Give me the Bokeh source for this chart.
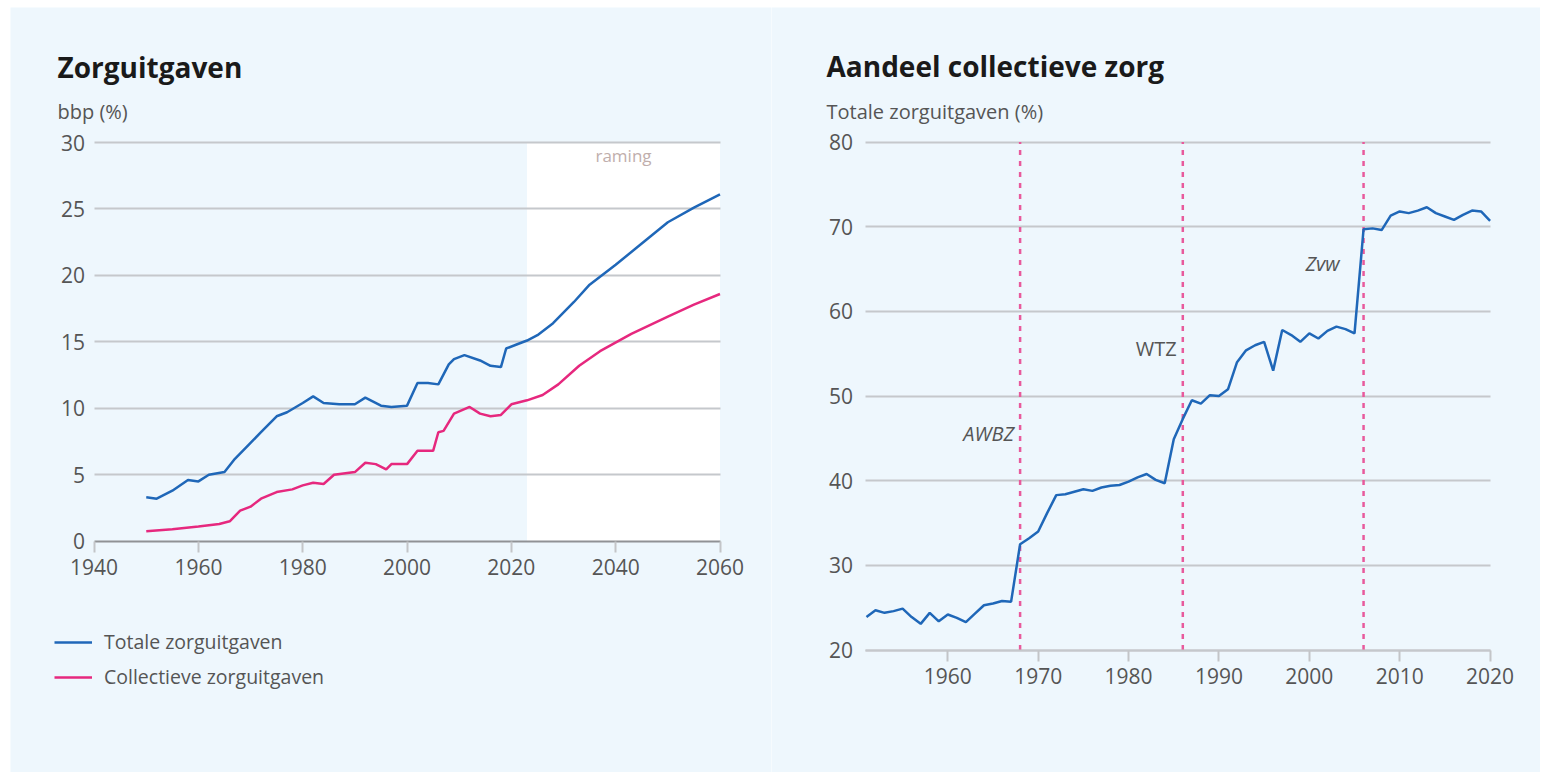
from bokeh.plotting import figure
from bokeh.models import (Range1d, Label, Legend, LegendItem, FixedTicker,
                          LinearAxis, Grid)
from bokeh.layouts import row
from bokeh.embed import file_html
from bokeh.resources import INLINE

# ---------------- data ----------------
# Left panel: zorguitgaven als % bbp (historisch + raming)
total_years = [1950, 1952, 1955, 1958, 1960, 1962, 1965, 1967, 1970, 1972, 1975, 1977,
               1980, 1982, 1984, 1987, 1990, 1992, 1995, 1997, 2000, 2002, 2004, 2006,
               2008, 2009, 2011, 2014, 2016, 2018, 2019, 2021, 2023, 2025, 2028, 2032,
               2035, 2040, 2045, 2050, 2055, 2060]
total_values = [3.3, 3.2, 3.8, 4.6, 4.5, 5.0, 5.2, 6.2, 7.4, 8.2, 9.4, 9.7,
                10.4, 10.9, 10.4, 10.3, 10.3, 10.8, 10.2, 10.1, 10.2, 11.9, 11.9, 11.8,
                13.3, 13.7, 14.0, 13.6, 13.2, 13.1, 14.5, 14.8, 15.1, 15.5, 16.4, 18.0,
                19.3, 20.8, 22.4, 24.0, 25.1, 26.1]

coll_years = [1950, 1955, 1960, 1964, 1966, 1968, 1970, 1972, 1975, 1978, 1980, 1982,
              1984, 1986, 1990, 1992, 1994, 1996, 1997, 2000, 2002, 2005, 2006, 2007,
              2009, 2012, 2014, 2016, 2018, 2020, 2023, 2026, 2029, 2033, 2037, 2043,
              2050, 2055, 2060]
coll_values = [0.75, 0.9, 1.1, 1.3, 1.5, 2.3, 2.6, 3.2, 3.7, 3.9, 4.2, 4.4,
               4.3, 5.0, 5.2, 5.9, 5.8, 5.4, 5.8, 5.8, 6.8, 6.8, 8.2, 8.3,
               9.6, 10.1, 9.6, 9.4, 9.5, 10.3, 10.6, 11.0, 11.8, 13.2, 14.3, 15.6,
               16.9, 17.8, 18.6]

projection_start = 2023
left_x_ticks = [1940, 1960, 1980, 2000, 2020, 2040, 2060]
left_y_ticks = [0, 5, 10, 15, 20, 25, 30]

# Right panel: aandeel collectieve zorg in totale zorguitgaven (%)
share_years = list(range(1951, 2021))
share_values = [23.9, 24.7, 24.4, 24.6, 24.9, 23.9, 23.1, 24.4, 23.4, 24.2,
                23.8, 23.3, 24.3, 25.3, 25.5, 25.8, 25.7, 32.5, 33.2, 34.0,
                36.2, 38.3, 38.4, 38.7, 39.0, 38.8, 39.2, 39.4, 39.5, 39.9,
                40.4, 40.8, 40.1, 39.7, 44.9, 47.3, 49.5, 49.1, 50.1, 50.0,
                50.8, 54.0, 55.4, 56.0, 56.4, 53.0, 57.8, 57.2, 56.4, 57.4,
                56.8, 57.7, 58.2, 57.9, 57.4, 69.7, 69.8, 69.6, 71.3, 71.8,
                71.6, 71.9, 72.3, 71.6, 71.2, 70.8, 71.4, 71.9, 71.8, 70.7]

events = ["AWBZ", "WTZ", "Zvw"]
event_years = [1968, 1986, 2006]
event_label_y = [45.6, 55.6, 65.6]
event_italic = [True, False, True]
event_offsets = [-6, -6, -24]

right_x_start = 1950.85
right_x_ticks = [1960, 1970, 1980, 1990, 2000, 2010, 2020]
right_y_ticks = [20, 30, 40, 50, 60, 70, 80]

# ---------------- style ----------------
BG = "#eef7fd"
GRID = "#c5c8cc"
AXIS = "#909295"
TICK = "#c3c5c8"
TXT = "#555555"
TITLE = "#1a1a1a"
BLUE = "#1f67b8"
PINK = "#e6287e"
VLINE = "#e85a9c"
FONT = "Open Sans"

PAGE_H = 772
FRAME_TOP = 7
HAS_CROSS = "cross_bounds" in Grid.properties()


def make_map(v0, px0, v1, px1):
    """linear map from page pixel to data value, anchored on two tick positions"""
    k = (v1 - v0) / (px1 - px0)
    return lambda px: v0 + (px - px0) * k


def base_fig(width, left_px, right_px, xmap, ymap, border_left, border_right):
    p = figure(width=width, height=PAGE_H,
               x_range=Range1d(xmap(left_px), xmap(right_px)),
               y_range=Range1d(ymap(PAGE_H), ymap(FRAME_TOP)),
               x_axis_location=None, y_axis_location=None,
               output_backend="svg", toolbar_location=None,
               min_border_left=border_left, min_border_right=border_right,
               min_border_top=FRAME_TOP, min_border_bottom=0)
    p.background_fill_color = BG
    p.border_fill_color = "white"
    p.outline_line_color = None
    for g in p.grid:
        g.visible = False
    return p


def add_hgrid(p, ticks, x0, x1):
    if HAS_CROSS:
        p.add_layout(Grid(dimension=1, ticker=FixedTicker(ticks=ticks), cross_bounds=(x0, x1),
                          grid_line_color=GRID, grid_line_width=2))
    else:
        p.segment(x0=[x0] * len(ticks), x1=[x1] * len(ticks), y0=ticks, y1=ticks,
                  line_color=GRID, line_width=2, level="underlay")


def style_axis(ax, size="21px"):
    ax.major_label_text_font = FONT
    ax.major_label_text_font_size = size
    ax.major_label_text_color = TXT
    ax.minor_tick_line_color = None


def add_text(p, x, y, text, size, style="normal", color=TXT, align="left", baseline="alphabetic"):
    p.add_layout(Label(x=x, y=y, text=text, text_font=FONT, text_font_size=size,
                       text_font_style=style, text_color=color, text_align=align,
                       text_baseline=baseline))


# ---------------- left panel ----------------
X1 = make_map(1940, 93.6, 2060, 719.5)
Y1 = make_map(0, 540.7, 30, 142.0)
p1 = base_fig(771, 10, 771, X1, Y1, 10, 0)

add_hgrid(p1, left_y_ticks[1:], left_x_ticks[0], left_x_ticks[-1])

p1.quad(left=[projection_start], right=[left_x_ticks[-1]], bottom=[left_y_ticks[0]],
        top=[left_y_ticks[-1]], fill_color="white", line_color=None, level="image")

xa1 = LinearAxis(fixed_location=left_y_ticks[0], ticker=FixedTicker(ticks=left_x_ticks),
                 bounds=(left_x_ticks[0], left_x_ticks[-1]))
style_axis(xa1)
xa1.axis_line_color = AXIS
xa1.axis_line_width = 2
xa1.major_tick_line_color = TICK
xa1.major_tick_line_width = 2
xa1.major_tick_out = 11
xa1.major_tick_in = 0
xa1.major_label_standoff = 7
p1.add_layout(xa1, "below")

ya1 = LinearAxis(fixed_location=left_x_ticks[0], ticker=FixedTicker(ticks=left_y_ticks))
style_axis(ya1)
ya1.axis_line_color = None
ya1.major_tick_line_color = None
ya1.major_tick_out = 0
ya1.major_tick_in = 0
ya1.major_label_standoff = 9
p1.add_layout(ya1, "left")

l_total = p1.line(total_years, total_values, line_color=BLUE, line_width=2.5)
l_coll = p1.line(coll_years, coll_values, line_color=PINK, line_width=2.5)

p1.add_layout(Label(x=(projection_start + left_x_ticks[-1]) / 2, y=left_y_ticks[-1], text="raming",
                    text_align="center", text_baseline="top", y_offset=-1,
                    text_font=FONT, text_font_size="17px", text_color="#bfaeac"))
add_text(p1, X1(57), Y1(66), "Zorguitgaven", "28px", style="bold", color=TITLE)
add_text(p1, X1(57), Y1(111), "bbp (%)", "20px")

legend = Legend(items=[LegendItem(label="Totale zorguitgaven", renderers=[l_total]),
                       LegendItem(label="Collectieve zorguitgaven", renderers=[l_coll])],
                location=(54 - 10, PAGE_H - 690), orientation="vertical",
                glyph_width=38, glyph_height=20, label_standoff=12, spacing=8,
                padding=0, margin=0, border_line_color=None, background_fill_alpha=0,
                label_text_font=FONT, label_text_font_size="19.5px", label_text_color=TXT)
p1.add_layout(legend)

# ---------------- right panel ----------------
X2 = make_map(1960, 947.3, 2020, 1489.6)
Y2 = make_map(20, 649.6, 80, 141.5)
p2 = base_fig(769, 771, 1540, X2, Y2, 0, 0)

add_hgrid(p2, right_y_ticks, right_x_start, right_x_ticks[-1])

xa2 = LinearAxis(fixed_location=right_y_ticks[0], ticker=FixedTicker(ticks=right_x_ticks),
                 bounds=(right_x_start, right_x_ticks[-1]))
style_axis(xa2)
xa2.axis_line_color = GRID
xa2.axis_line_width = 2
xa2.major_tick_line_color = TICK
xa2.major_tick_line_width = 2
xa2.major_tick_out = 11
xa2.major_tick_in = 0
xa2.major_label_standoff = 7
p2.add_layout(xa2, "below")

ya2 = LinearAxis(fixed_location=right_x_start, ticker=FixedTicker(ticks=right_y_ticks))
style_axis(ya2)
ya2.axis_line_color = None
ya2.major_tick_line_color = None
ya2.major_tick_out = 0
ya2.major_tick_in = 0
ya2.major_label_standoff = 12
p2.add_layout(ya2, "left")

for name, yr, ly, ital, off in zip(events, event_years, event_label_y, event_italic, event_offsets):
    p2.segment(x0=[yr], y0=[right_y_ticks[0]], x1=[yr], y1=[right_y_ticks[-1]],
               line_color=VLINE, line_width=2.5, line_dash="5 6")
    p2.add_layout(Label(x=yr, y=ly, text=name, text_align="right", text_baseline="middle",
                        x_offset=off, text_font=FONT, text_font_size="20px",
                        text_font_style="italic" if ital else "normal", text_color=TXT))

p2.line(share_years, share_values, line_color=BLUE, line_width=2.5)

add_text(p2, X2(826), Y2(65), "Aandeel collectieve zorg", "28px", style="bold", color=TITLE)
add_text(p2, X2(826), Y2(111), "Totale zorguitgaven (%)", "20px")

layout = row(p1, p2)
open("out.html", "w").write(file_html(layout, INLINE))
